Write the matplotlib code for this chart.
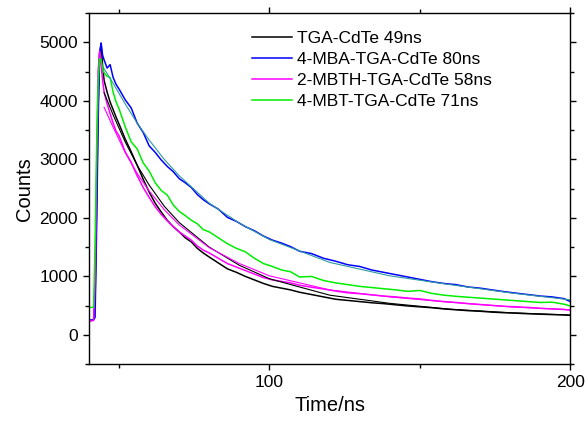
import matplotlib
matplotlib.use('Agg')
import matplotlib.pyplot as plt
from matplotlib.ticker import MultipleLocator

plt.rcParams['font.family'] = ['Liberation Sans', 'DejaVu Sans']

# time axis shared by the measured decays (ns)
t = [40, 41, 41.5, 42, 42.5, 43, 43.5, 44, 44.5, 45, 46, 47, 48, 49, 50,
     52, 54, 56, 58, 60, 62, 64, 66, 68, 70, 72, 74, 76, 78, 80,
     83, 86, 89, 92, 95, 98, 101, 104, 107, 110, 114, 118, 122, 126, 130,
     134, 138, 142, 146, 150, 154, 158, 162, 166, 170, 174, 178, 182, 186,
     190, 194, 198, 200]

tga = [250, 250, 260, 600, 2200, 3900, 4800, 4980, 4600, 4350, 4150, 3980, 3850, 3720, 3600,
       3350, 3130, 2900, 2660, 2440, 2250, 2100, 1960, 1850, 1760, 1660, 1590, 1480, 1400, 1330,
       1230, 1130, 1070, 1000, 940, 880, 830, 800, 770, 730, 690, 650, 610, 590, 570,
       550, 535, 515, 495, 480, 465, 445, 430, 415, 405, 390, 380, 372, 362,
       355, 348, 342, 335]

mba = [250, 255, 260, 300, 1800, 3600, 4800, 4990, 4780, 4700, 4560, 4620, 4400, 4280, 4200,
       4020, 3880, 3620, 3460, 3230, 3120, 2990, 2880, 2790, 2670, 2600, 2520, 2400, 2310, 2240,
       2150, 2010, 1940, 1850, 1780, 1690, 1620, 1570, 1510, 1430, 1390, 1310, 1260, 1200, 1170,
       1110, 1070, 1030, 990, 950, 910, 880, 860, 820, 800, 770, 740, 715, 690,
       665, 650, 620, 570]

mbth = [240, 240, 250, 900, 2800, 4500, 4850, 4600, 4350, 4150, 3950, 3780, 3620, 3480, 3400,
        3130, 2950, 2720, 2520, 2350, 2190, 2060, 1950, 1850, 1760, 1690, 1620, 1520, 1450, 1400,
        1310, 1220, 1160, 1100, 1040, 980, 940, 915, 890, 850, 815, 785, 750, 720, 705,
        685, 665, 650, 630, 615, 590, 570, 555, 535, 520, 505, 490, 480, 470,
        455, 445, 435, 425]

mbt = [470, 470, 480, 1500, 3200, 4300, 4720, 4700, 4560, 4480, 4420, 4400, 4150, 3980, 3860,
       3560, 3300, 3180, 2940, 2800, 2600, 2470, 2390, 2220, 2110, 2040, 1960, 1900, 1800, 1760,
       1660, 1560, 1480, 1420, 1310, 1220, 1170, 1110, 1080, 990, 1000, 930, 890, 860, 830,
       810, 790, 770, 745, 760, 710, 680, 660, 645, 630, 615, 600, 585, 570,
       555, 560, 525, 495]

# fitted decay curves
t_fit = [45, 48, 52, 56, 60, 65, 70, 80, 90, 100, 120, 140, 160, 180, 200]
tga_fit = [4140, 3760, 3300, 2900, 2560, 2200, 1920, 1500, 1190, 960, 680, 540, 440, 380, 340]
mbth_fit = [3890, 3550, 3120, 2760, 2460, 2140, 1880, 1490, 1220, 1010, 770, 650, 560, 480, 430]
mba_fit = [4550, 4300, 3950, 3620, 3330, 3000, 2720, 2250, 1910, 1630, 1240, 1010, 860, 720, 600]

labels = ['TGA-CdTe 49ns', '4-MBA-TGA-CdTe 80ns', '2-MBTH-TGA-CdTe 58ns', '4-MBT-TGA-CdTe 71ns']

fig = plt.figure(figsize=(5.86, 4.23), dpi=100)
ax = fig.add_axes([0.152, 0.139, 0.821, 0.830])

ax.plot(t, tga, color='black', lw=1.1, label=labels[0])
ax.plot(t, mba, color='#0000ff', lw=1.1, label=labels[1])
ax.plot(t, mbth, color='#ff00ff', lw=1.1, label=labels[2])
ax.plot(t, mbt, color='#00ee00', lw=1.1, label=labels[3])

ax.plot(t_fit, tga_fit, color='black', lw=0.8)
ax.plot(t_fit, mbth_fit, color='#ff00ff', lw=0.8)
ax.plot(t_fit, mba_fit, color='#2e9aa0', lw=0.8)

ax.set_xlim(40, 200)
ax.set_ylim(-500, 5500)
ax.xaxis.set_major_locator(MultipleLocator(100))
ax.xaxis.set_minor_locator(MultipleLocator(50))
ax.yaxis.set_major_locator(MultipleLocator(1000))
ax.yaxis.set_minor_locator(MultipleLocator(500))
ax.tick_params(which='both', direction='out', top=True, right=True, width=1)
ax.tick_params(which='major', length=4.5, labelsize=12.5)
ax.tick_params(which='minor', length=3)
for s in ax.spines.values():
    s.set_linewidth(1)

ax.set_xlabel('Time/ns', fontsize=14.5)
ax.set_ylabel('Counts', fontsize=14.5)

ax.legend(loc='upper right', frameon=False, fontsize=12.5, handlelength=2.3,
          handletextpad=0.3, labelspacing=0.33, borderaxespad=0.3,
          bbox_to_anchor=(0.862, 0.983))

fig.savefig('out.png', dpi=100)
